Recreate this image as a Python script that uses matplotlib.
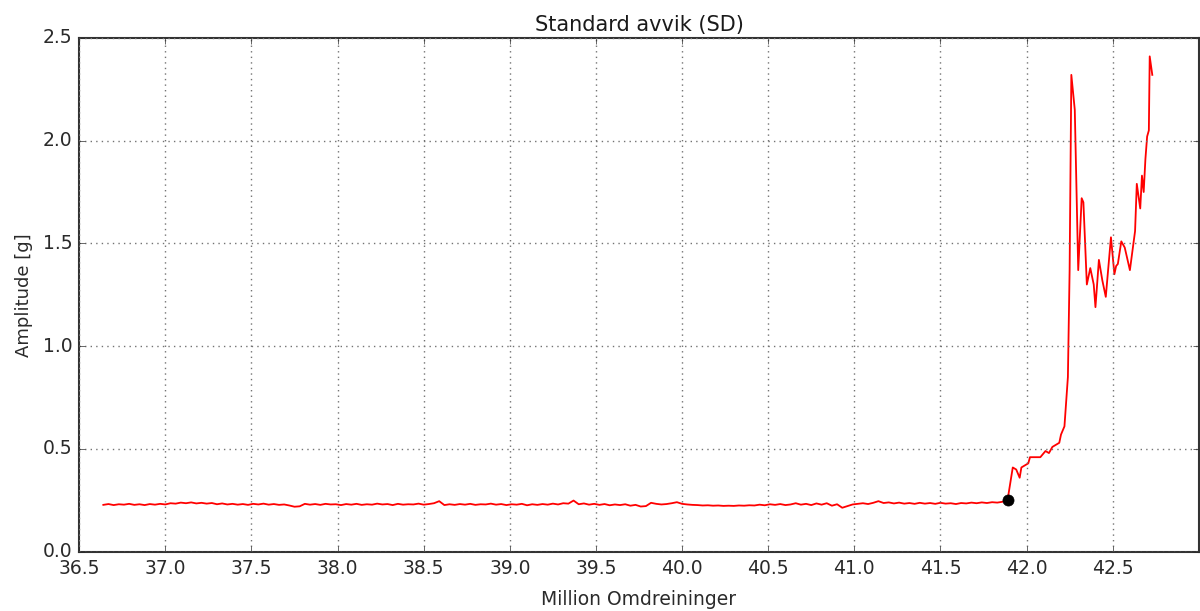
import numpy as np
import matplotlib
matplotlib.use("Agg")
import matplotlib.pyplot as plt

# Standard deviation of vibration amplitude vs. running time
# steady part, sampled every 0.03 million revolutions from 36.64
sd_flat = [
    0.228, 0.232, 0.227, 0.231, 0.229, 0.233, 0.228, 0.231, 0.227, 0.232,
    0.229, 0.233, 0.230, 0.236, 0.234, 0.239, 0.236, 0.240, 0.235, 0.238,
    0.234, 0.237, 0.231, 0.235, 0.230, 0.233, 0.229, 0.232, 0.228, 0.233,
    0.230, 0.234, 0.229, 0.232, 0.228, 0.230, 0.225, 0.219, 0.221, 0.233,
    0.229, 0.232, 0.228, 0.233, 0.230, 0.231, 0.227, 0.232, 0.229, 0.233,
    0.228, 0.231, 0.229, 0.234, 0.230, 0.232, 0.227, 0.233, 0.229, 0.231,
    0.230, 0.234, 0.229, 0.232, 0.236, 0.246, 0.227, 0.231, 0.228, 0.232,
    0.229, 0.233, 0.228, 0.231, 0.230, 0.234, 0.229, 0.232, 0.227, 0.231,
    0.229, 0.233, 0.226, 0.231, 0.228, 0.232, 0.229, 0.234, 0.230, 0.236,
    0.234, 0.249, 0.231, 0.235, 0.229, 0.233, 0.228, 0.232, 0.226, 0.230,
    0.227, 0.231, 0.224, 0.228, 0.220, 0.222, 0.238, 0.233, 0.230, 0.232,
    0.236, 0.241, 0.233, 0.230, 0.228, 0.227, 0.225, 0.226, 0.224, 0.225,
    0.223, 0.224, 0.223, 0.225, 0.224, 0.226, 0.225, 0.229, 0.226, 0.231,
    0.228, 0.232, 0.227, 0.230, 0.236, 0.229, 0.233, 0.227, 0.235, 0.229,
    0.236, 0.224, 0.231, 0.214, 0.222, 0.230, 0.233, 0.236, 0.232, 0.238,
    0.246, 0.237, 0.240, 0.235, 0.239, 0.234, 0.237, 0.233, 0.238, 0.234,
    0.237, 0.233, 0.238, 0.234, 0.236, 0.232, 0.237, 0.235, 0.239, 0.236,
    0.240, 0.237, 0.241, 0.239, 0.243,
]
flat_start, flat_step = 36.64, 0.03

# failure phase
rev_fail = [41.89, 41.92, 41.94, 41.96, 41.97, 41.99, 42.01, 42.02, 42.05, 42.08,
            42.10, 42.11, 42.13, 42.15, 42.17, 42.19, 42.20, 42.22, 42.24, 42.25,
            42.26, 42.28, 42.30, 42.32, 42.33, 42.35, 42.37, 42.38, 42.39, 42.40,
            42.42, 42.44, 42.46, 42.49, 42.51, 42.52, 42.53, 42.55, 42.57, 42.60,
            42.63, 42.64, 42.66, 42.67, 42.68, 42.69, 42.70, 42.71, 42.715, 42.73]
sd_fail = [0.253, 0.41, 0.40, 0.36, 0.41, 0.42, 0.43, 0.46, 0.46, 0.46,
           0.48, 0.49, 0.48, 0.51, 0.52, 0.53, 0.57, 0.61, 0.85, 1.37,
           2.32, 2.15, 1.37, 1.72, 1.70, 1.30, 1.38, 1.34, 1.30, 1.19,
           1.42, 1.32, 1.24, 1.53, 1.35, 1.39, 1.40, 1.51, 1.48, 1.37,
           1.56, 1.79, 1.67, 1.83, 1.75, 1.91, 2.02, 2.05, 2.41, 2.32]

# detected onset
onset_rev, onset_sd = 41.89, 0.253

rev = np.concatenate([flat_start + flat_step * np.arange(len(sd_flat)), rev_fail])
sd = np.concatenate([sd_flat, sd_fail])

plt.style.use('classic')
fig = plt.figure(figsize=(12, 6.11), dpi=100, facecolor='white')
ax = fig.add_axes([0.066, 0.097, 0.933, 0.841])
ax.set_facecolor('white')

ax.plot(rev, sd, '-', color='red', lw=1.3)
ax.plot(onset_rev, onset_sd, 'o', color='black', ms=8, mec='black')

ax.set_xlim(36.5, 43.0)
ax.set_ylim(0.0, 2.5)
ax.set_xticks(np.arange(36.5, 42.51, 0.5))
ax.set_yticks(np.arange(0.0, 2.51, 0.5))
ax.xaxis.set_major_formatter(matplotlib.ticker.FormatStrFormatter('%.1f'))
ax.yaxis.set_major_formatter(matplotlib.ticker.FormatStrFormatter('%.1f'))
ax.grid(True, color='0.45', ls=':', lw=1.0)
ax.tick_params(labelsize=13.5, colors='#2a2a2a', pad=5)
for s in ax.spines.values():
    s.set_linewidth(1.5)
    s.set_color('#333333')

ax.set_title('Standard avvik (SD)', fontsize=15, color='#1a1a1a')
ax.set_xlabel('Million Omdreininger', fontsize=13.5, color='#2a2a2a', labelpad=9)
ax.set_ylabel('Amplitude [g]', fontsize=13, color='#2a2a2a', labelpad=7)

fig.savefig('out.png', dpi=100, facecolor='white')
